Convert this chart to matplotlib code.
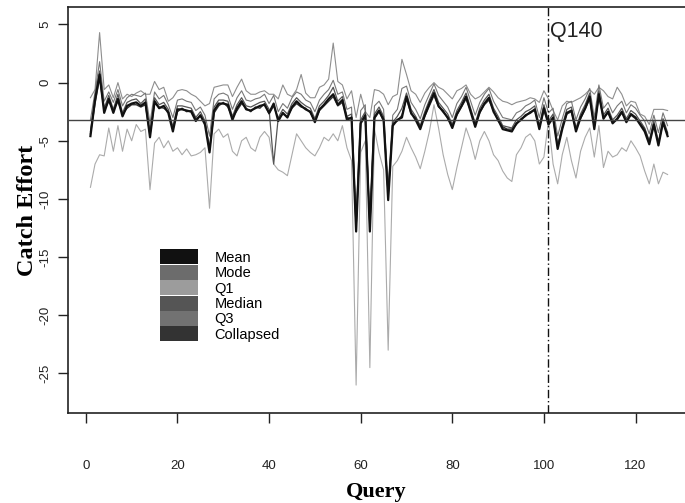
import matplotlib
matplotlib.use("Agg")
import matplotlib.pyplot as plt
from matplotlib.patches import Patch

plt.rcParams["axes.unicode_minus"] = False

# query index 1..127
query = list(range(1, 128))

mean = [-4.6, -1.5, 0.7, -2.6, -1.4, -2.6, -1.4, -2.9, -2.0, -1.8,
        -1.7, -2.0, -1.7, -4.7, -1.6, -2.2, -2.0, -2.6, -4.2, -2.3,
        -2.3, -2.4, -2.5, -3.3, -2.8, -3.6, -6.0, -2.4, -1.8, -1.8,
        -1.9, -3.2, -2.2, -1.6, -2.3, -2.4, -2.2, -2.0, -1.9, -2.6,
        -1.8, -3.3, -2.6, -3.0, -2.1, -1.6, -2.0, -2.3, -2.5, -3.4,
        -2.3, -1.9, -1.4, -1.0, -1.9, -1.5, -3.2, -3.0, -12.8, -3.5,
        -2.8, -12.8, -3.0, -2.4, -3.2, -10.1, -3.7, -3.2, -3.0, -1.2,
        -2.6, -3.2, -4.0, -2.8, -1.8, -0.9, -2.0, -2.5, -3.0, -3.9,
        -2.7, -2.0, -1.2, -2.5, -3.8, -2.5, -1.8, -1.3, -2.5, -3.2,
        -4.0, -4.1, -4.2, -3.5, -3.2, -2.8, -2.6, -2.3, -4.0, -2.2,
        -3.6, -3.0, -5.7, -4.0, -2.6, -2.4, -4.2, -3.0, -2.2, -1.2,
        -4.0, -1.0, -3.1, -2.5, -3.5, -3.1, -2.5, -3.4, -2.7, -3.0,
        -3.6, -4.2, -5.3, -3.6, -5.4, -3.4, -4.6]

mode = [-3.2, -0.8, 1.8, -1.6, -0.8, -1.7, -0.6, -2.0, -1.3, -1.0,
        -1.1, -1.2, -0.9, -3.5, -0.8, -1.4, -1.1, -1.9, -3.0, -1.5,
        -1.4, -1.6, -1.7, -2.4, -2.1, -2.8, -4.6, -1.4, -1.0, -0.9,
        -1.1, -2.3, -1.3, -0.7, -1.5, -1.6, -1.4, -1.3, -1.0, -1.8,
        -1.1, -2.5, -1.8, -2.2, -1.3, -0.8, -1.0, -1.5, -1.7, -2.5,
        -1.5, -1.0, -0.6, 0.2, -1.0, -0.8, -2.3, -2.1, -11.5, -2.4,
        -1.9, -11.8, -2.0, -1.6, -2.3, -9.0, -2.8, -2.3, -0.5, -0.3,
        -1.7, -2.3, -3.1, -1.9, -1.0, -0.1, -1.1, -1.6, -2.1, -3.0,
        -1.8, -1.2, -0.4, -1.6, -2.8, -1.7, -1.0, -0.5, -1.6, -2.3,
        -3.0, -3.1, -3.2, -2.6, -2.4, -2.0, -1.8, -1.5, -3.0, -1.3,
        -2.6, -2.2, -4.6, -3.1, -1.8, -1.6, -3.2, -2.1, -1.4, -0.5,
        -3.0, -0.2, -2.2, -1.7, -2.6, -2.0, -1.6, -2.6, -1.9, -2.2,
        -2.8, -3.3, -4.4, -2.8, -4.3, -2.6, -3.7]

q1 = [-9.0, -7.0, -6.2, -6.3, -3.9, -5.9, -3.7, -5.9, -4.0, -5.0,
      -3.6, -4.2, -4.0, -9.2, -5.2, -4.7, -5.6, -5.0, -5.9, -5.6,
      -6.2, -5.7, -6.3, -6.2, -6.0, -5.6, -10.8, -4.4, -4.0, -4.7,
      -4.4, -5.9, -6.3, -5.0, -4.7, -5.6, -5.9, -4.7, -4.2, -4.7,
      -7.0, -7.5, -7.7, -8.0, -6.2, -4.4, -5.0, -5.6, -6.0, -6.3,
      -5.6, -4.7, -5.0, -4.4, -5.0, -3.7, -5.6, -6.7, -26.0, -6.0,
      -5.0, -24.5, -4.0, -6.0, -7.5, -23.0, -7.2, -6.7, -5.9, -4.7,
      -5.6, -6.4, -7.4, -5.9, -4.2, -1.9, -3.9, -6.2, -7.9, -9.2,
      -7.3, -5.6, -3.9, -5.0, -6.6, -5.0, -4.2, -5.0, -6.2, -6.7,
      -7.6, -8.2, -8.5, -6.2, -5.6, -4.7, -4.4, -5.0, -7.0, -6.4,
      -3.3, -7.0, -8.7, -6.2, -4.7, -6.7, -8.2, -5.9, -4.7, -3.9,
      -6.4, -3.7, -7.3, -5.9, -6.4, -6.2, -5.6, -5.9, -5.0, -5.6,
      -6.3, -7.6, -8.7, -7.0, -8.7, -7.7, -7.9]

median = [-4.2, -1.2, 1.0, -2.2, -1.1, -2.3, -1.0, -2.6, -1.7, -1.5,
          -1.4, -1.8, -1.4, -4.3, -1.3, -1.9, -1.7, -2.3, -3.8, -2.0,
          -2.0, -2.1, -2.2, -3.0, -2.5, -3.3, -5.6, -2.1, -1.5, -1.5,
          -1.6, -2.9, -1.9, -1.3, -2.0, -2.1, -1.9, -1.7, -1.6, -2.3,
          -7.0, -3.0, -2.3, -2.7, -1.8, -1.3, -1.7, -2.0, -2.2, -3.1,
          -2.0, -1.6, -1.1, -0.4, -1.6, -1.2, -2.9, -2.7, -12.6, -3.2,
          -2.5, -12.6, -2.7, -2.1, -2.9, -9.8, -3.4, -2.9, -2.2, -0.9,
          -2.3, -2.9, -3.7, -2.5, -1.5, -0.6, -1.7, -2.2, -2.7, -3.6,
          -2.4, -1.7, -0.9, -2.2, -3.5, -2.2, -1.5, -1.0, -2.2, -2.9,
          -3.7, -3.8, -3.9, -3.2, -2.9, -2.5, -2.3, -2.0, -3.7, -1.9,
          -3.3, -2.7, -5.4, -3.7, -2.3, -2.1, -3.9, -2.7, -1.9, -0.9,
          -3.7, -0.7, -2.8, -2.2, -3.2, -2.8, -2.2, -3.1, -2.4, -2.7,
          -3.3, -3.9, -5.0, -3.3, -5.1, -3.1, -4.3]

q3 = [-1.3, -0.6, 4.3, -0.6, -0.2, -1.3, 0.0, -1.4, -1.0, -1.2,
      -0.9, -0.7, -1.0, -1.0, 0.1, -0.6, -0.4, -1.6, -1.3, -0.7,
      -0.6, -0.7, -1.0, -1.2, -1.6, -2.0, -1.8, -0.4, -0.3, -0.2,
      -0.2, -1.2, -0.4, 0.3, -0.7, -1.0, -1.0, -0.8, -0.7, -1.0,
      -1.0, -1.4, -0.2, -1.0, -1.2, -0.6, 0.7, -0.9, -1.3, -1.3,
      -0.4, -0.2, 0.3, 3.4, 0.1, -0.2, -1.4, -0.7, -3.0, -1.0,
      -2.5, -3.0, -0.6, -0.7, -1.0, -1.9, -1.2, -1.0, 2.0, 0.7,
      -0.7, -1.0, -1.7, -0.9, -0.4, 0.0, -0.4, -0.6, -1.0, -1.4,
      -0.7, -0.5, -0.2, -1.0, -1.4, -1.2, -0.8, -0.4, -0.8, -1.3,
      -1.6, -1.7, -1.9, -1.7, -1.6, -1.5, -1.3, -1.4, -1.7, -0.7,
      -1.4, -2.4, -3.2, -2.0, -1.6, -1.7, -1.5, -1.3, -1.0, -0.6,
      -1.0, -0.4, -0.7, -1.2, -1.4, -0.4, -1.0, -2.0, -1.6, -1.7,
      -2.7, -2.9, -3.6, -2.3, -2.3, -2.3, -2.4]

collapsed = [-4.4, -1.8, 0.4, -2.4, -1.6, -2.4, -1.6, -2.7, -2.2, -1.9,
             -1.9, -2.1, -1.9, -4.5, -1.8, -2.1, -2.2, -2.5, -4.0, -2.5,
             -2.2, -2.5, -2.4, -3.1, -2.9, -3.4, -5.8, -2.6, -2.0, -1.7,
             -2.1, -3.0, -2.4, -1.8, -2.2, -2.5, -2.1, -2.2, -1.8, -2.7,
             -2.0, -3.1, -2.7, -2.9, -2.2, -1.8, -2.1, -2.2, -2.6, -3.3,
             -2.4, -2.0, -1.6, -1.2, -2.0, -1.7, -3.0, -3.1, -12.4, -3.4,
             -2.9, -12.2, -3.1, -2.5, -3.3, -9.6, -3.5, -3.3, -2.8, -1.4,
             -2.7, -3.0, -3.8, -2.9, -2.0, -1.1, -2.1, -2.4, -3.1, -3.7,
             -2.8, -2.1, -1.4, -2.4, -3.6, -2.6, -1.9, -1.5, -2.4, -3.3,
             -3.8, -4.0, -4.0, -3.6, -3.1, -2.9, -2.5, -2.4, -3.8, -2.4,
             -3.4, -3.1, -5.5, -3.9, -2.7, -2.5, -4.0, -3.1, -2.3, -1.4,
             -3.8, -1.2, -3.0, -2.6, -3.4, -3.2, -2.6, -3.3, -2.8, -3.1,
             -3.5, -4.0, -5.1, -3.7, -5.2, -3.5, -4.4]

ref_level = -3.2
marker_query = 101

fig = plt.figure(figsize=(6.85, 5.03), dpi=100)
ax = fig.add_axes([68 / 685, 1 - 413 / 503, 1 - 68 / 685, (413 - 7) / 503])

# series, lightest first so the mean sits on top
ax.plot(query, q1, color="#ababab", lw=0.8, zorder=2)
ax.plot(query, q3, color="#8e8e8e", lw=0.8, zorder=3)
ax.plot(query, mode, color="#787878", lw=0.8, zorder=3)
ax.plot(query, median, color="#555555", lw=0.9, zorder=4)
ax.plot(query, collapsed, color="#333333", lw=1.0, zorder=5)
ax.plot(query, mean, color="#111111", lw=1.6, zorder=6)

ax.axhline(ref_level, color="#444444", lw=1.0, zorder=7)
ax.axvline(marker_query, color="#111111", lw=1.0,
           linestyle=(0, (6, 2, 1, 2)), zorder=7)
ax.text(marker_query + 0.3, 4.4, "Q140", fontsize=15.5,
        family="Liberation Sans", color="#222222", va="center", ha="left")

ax.set_xlim(-3.9, 130.8)
ax.set_ylim(-28.4, 6.5)
ax.set_xticks([0, 20, 40, 60, 80, 100, 120])
ax.set_yticks([5, 0, -5, -10, -15, -20, -25])
ax.spines["right"].set_visible(False)
for s in ["left", "bottom", "top"]:
    ax.spines[s].set_linewidth(1.2)
    ax.spines[s].set_color("#222222")

ax.tick_params(axis="x", direction="out", length=7, width=1.0, pad=27,
               labelsize=9.5, colors="#222222")
ax.tick_params(axis="y", direction="out", length=7, width=1.0, pad=5,
               labelsize=9.5, colors="#222222", labelrotation=90)
for lab in ax.get_xticklabels() + ax.get_yticklabels():
    lab.set_family("Liberation Sans")
for lab in ax.get_yticklabels():
    lab.set_va("center")

ax.set_xlabel("Query", family="Liberation Serif", fontweight="bold",
              fontsize=16, labelpad=7)
ax.set_ylabel("Catch Effort", family="Liberation Serif", fontweight="bold",
              fontsize=17.5, labelpad=1)

# legend of grey swatches
names = ["Mean", "Mode", "Q1", "Median", "Q3", "Collapsed"]
swatches = ["#111111", "#6c6c6c", "#9c9c9c", "#555555", "#727272", "#333333"]
handles = [Patch(facecolor=c, edgecolor="none") for c in swatches]
ax.legend(handles, names, loc="upper left", bbox_to_anchor=(0.149, 0.403),
          frameon=False, labelspacing=0.0, handlelength=2.6, handleheight=1.2,
          handletextpad=1.15, borderaxespad=0, borderpad=0,
          prop={"family": "Liberation Sans", "size": 10.5})

fig.savefig("out.png", dpi=100)
